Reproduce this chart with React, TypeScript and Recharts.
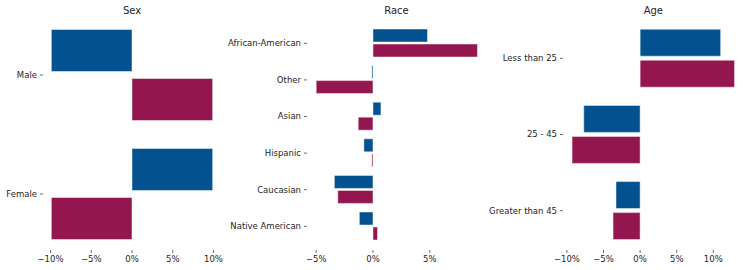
import { BarChart, Bar, XAxis, YAxis } from "recharts";

const BLUE = "#03528f";
const MAGENTA = "#93164f";
const FONT = "DejaVu Sans, sans-serif";

const sexCategories = ["Male", "Female"];
const sexBlue = [-9.9, 9.9];
const sexMagenta = [9.9, -9.9];

const raceCategories = ["African-American", "Other", "Asian", "Hispanic", "Caucasian", "Native American"];
const raceBlue = [4.8, -0.1, 0.7, -0.8, -3.4, -1.2];
const raceMagenta = [9.2, -5.0, -1.3, -0.1, -3.1, 0.4];

const ageCategories = ["Less than 25", "25 - 45", "Greater than 45"];
const ageBlue = [11.0, -7.7, -3.3];
const ageMagenta = [12.9, -9.3, -3.7];

const wideTicks = [-10, -5, 0, 5, 10];
const raceTicks = [-5, 0, 5];

const fmt = (v: number) => (v < 0 ? "\u2212" : "") + Math.abs(v) + "%";

function XTick({ x, payload }: any) {
  return (
    <g>
      <line x1={x} x2={x} y1={250} y2={253} stroke="#444" strokeWidth={0.8} />
      <text x={x} y={262} textAnchor="middle" fontSize={8.5} fill="#262626" fontFamily={FONT}>
        {fmt(payload.value)}
      </text>
    </g>
  );
}

function YTick({ x, y, payload }: any) {
  return (
    <g>
      <line x1={x - 4} x2={x - 1} y1={y} y2={y} stroke="#444" strokeWidth={0.8} />
      <text x={x - 7} y={y} dy="0.35em" textAnchor="end" fontSize={8.5} fill="#262626" fontFamily={FONT}>
        {payload.value}
      </text>
    </g>
  );
}

interface PanelProps {
  title: string;
  categories: string[];
  blue: number[];
  magenta: number[];
  ticks: number[];
  domain: [number, number];
  left: number;
  width: number;
  marginLeft: number;
  yWidth: number;
  right: number;
  top: number;
  xHeight: number;
  barSize: number;
  barGap: number;
}

function Panel(p: PanelProps) {
  const data = p.categories.map((name, i) => ({ name, a: p.blue[i], b: p.magenta[i] }));
  const plotLeft = p.marginLeft + p.yWidth;
  const plotRight = p.width - p.right;
  return (
    <div style={{ position: "absolute", left: p.left, top: 0, width: p.width, height: 270 }}>
      <div
        style={{
          position: "absolute",
          left: plotLeft,
          width: plotRight - plotLeft,
          top: 0,
          height: 21,
          lineHeight: "21px",
          textAlign: "center",
          fontSize: 10,
          color: "#262626",
          fontFamily: FONT,
        }}
      >
        {p.title}
      </div>
      <BarChart
        width={p.width}
        height={270}
        data={data}
        layout="vertical"
        margin={{ top: p.top, right: p.right, bottom: 0, left: p.marginLeft }}
        barGap={p.barGap}
        barSize={p.barSize}
      >
        <XAxis
          type="number"
          domain={p.domain}
          ticks={p.ticks}
          height={p.xHeight}
          axisLine={false}
          tickLine={false}
          tick={<XTick />}
          interval={0}
          allowDataOverflow
        />
        <YAxis
          type="category"
          dataKey="name"
          width={p.yWidth}
          axisLine={false}
          tickLine={false}
          tickSize={0}
          tickMargin={0}
          tick={<YTick />}
          interval={0}
        />
        <Bar dataKey="a" fill={BLUE} stroke="#ffffff" strokeOpacity={0.6} strokeWidth={0.8} isAnimationActive={false} />
        <Bar dataKey="b" fill={MAGENTA} stroke="#ffffff" strokeOpacity={0.6} strokeWidth={0.8} isAnimationActive={false} />
      </BarChart>
    </div>
  );
}

export default function App() {
  return (
    <div style={{ position: "fixed", left: 0, top: 0, width: 748, height: 270, background: "#fff" }}>
      <Panel
        title="Sex"
        categories={sexCategories}
        blue={sexBlue}
        magenta={sexMagenta}
        ticks={wideTicks}
        domain={[-10.8, 10.8]}
        left={0}
        width={225}
        marginLeft={0}
        yWidth={44}
        right={5}
        top={15.5}
        xHeight={16.5}
        barSize={42}
        barGap={7}
      />
      <Panel
        title="Race"
        categories={raceCategories}
        blue={raceBlue}
        magenta={raceMagenta}
        ticks={raceTicks}
        domain={[-5.72, 9.86]}
        left={140}
        width={350}
        marginLeft={80}
        yWidth={88}
        right={5}
        top={25}
        xHeight={25.4}
        barSize={13}
        barGap={2}
      />
      <Panel
        title="Age"
        categories={ageCategories}
        blue={ageBlue}
        magenta={ageMagenta}
        ticks={wideTicks}
        domain={[-10.4, 14.0]}
        left={400}
        width={348}
        marginLeft={80}
        yWidth={84}
        right={5.4}
        top={20.2}
        xHeight={21.2}
        barSize={27}
        barGap={4}
      />
    </div>
  );
}
